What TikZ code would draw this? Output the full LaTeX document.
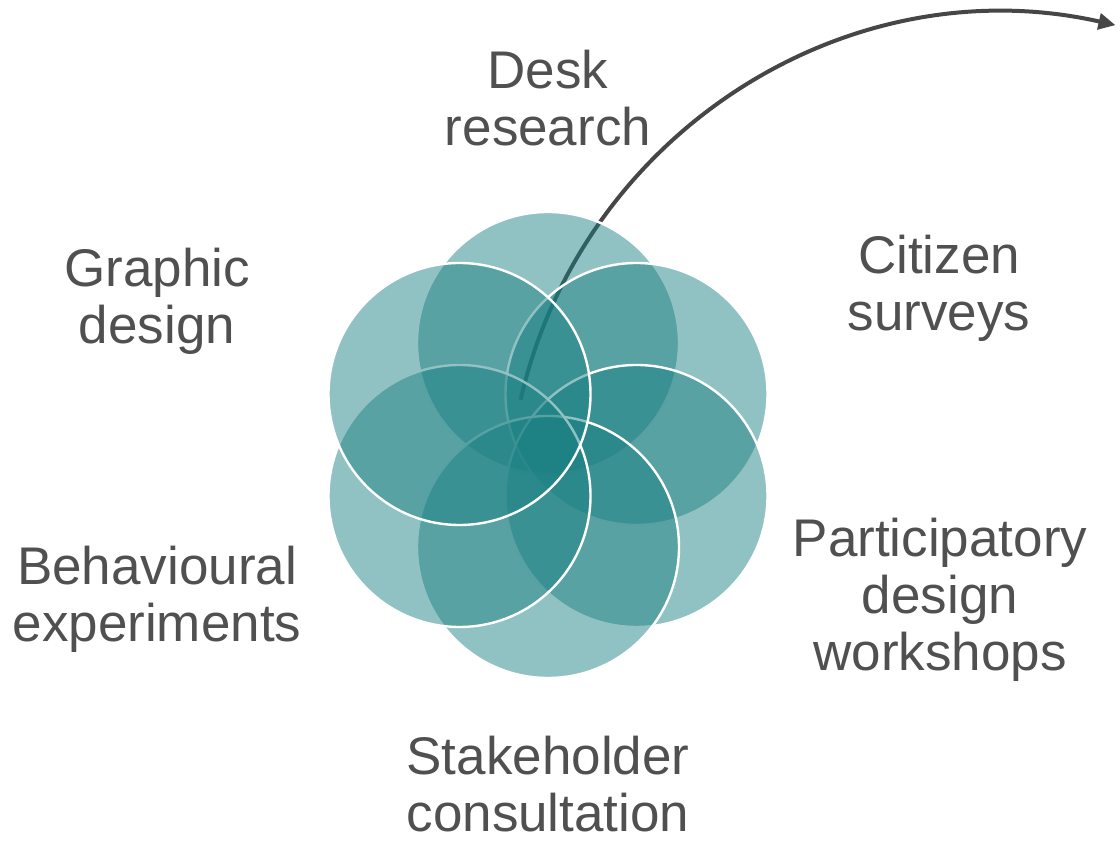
\documentclass[tikz,border=0pt]{standalone}
\usepackage{fontspec}
\setmainfont{Liberation Sans}
\usetikzlibrary{arrows.meta}
\definecolor{teal}{RGB}{26,127,130}
\definecolor{txt}{RGB}{80,80,80}
\definecolor{arrowc}{RGB}{70,70,70}
\tikzset{
  petal/.style={circle, minimum size=262pt, inner sep=0pt, fill=teal, fill opacity=0.48, draw=white, draw opacity=1, line width=2.4pt},
  lbl/.style={align=center, text=txt, font=\fontsize{53}{57}\selectfont, inner sep=0pt, anchor=base},
  flow/.style={draw=arrowc, line width=4pt, -{Triangle[length=17pt,width=16pt]}}
}
\begin{document}
\begin{tikzpicture}[x=1pt,y=1pt]
\useasboundingbox (0,0) rectangle (1120,843);
\coordinate (arrowstart) at (520.6,443.2);
\draw[flow] (arrowstart) arc[start angle=167.1, end angle=77.3, radius=498];
\node[petal] (top) at (548,500) {};
\node[petal] (ur) at (636.5,449) {};
\node[petal] (lr) at (636.5,347) {};
\node[petal] (bot) at (548,296) {};
\node[petal] (ll) at (459.5,347) {};
\node[petal] (ul) at (459.5,449) {};
\node[lbl] (desk) at (548,697) {Desk\\research};
\node[lbl] (graphic) at (157,499) {Graphic\\design};
\node[lbl] (citizen) at (939,512) {Citizen\\surveys};
\node[lbl] (partic) at (940,172) {Participatory\\design\\workshops};
\node[lbl] (behav) at (157,201) {Behavioural\\experiments};
\node[lbl] (stake) at (548,11) {Stakeholder\\consultation};
\end{tikzpicture}
\end{document}
